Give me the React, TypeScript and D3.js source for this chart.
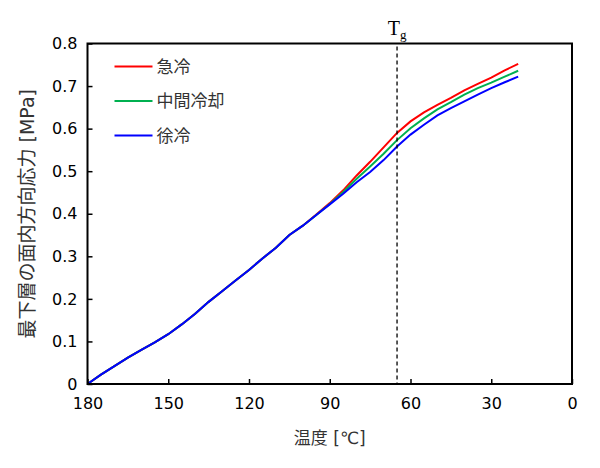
import { useEffect, useRef } from 'react';
import * as d3 from 'd3';

// 温度 [℃] (x, reversed axis)
const temps = [180, 175, 170, 165, 160, 155, 150, 145, 140, 135, 130, 125, 120, 115, 110, 105, 100, 95, 90, 85, 80, 75, 70, 65, 60, 55, 50, 45, 40, 35, 30, 25, 20];

// 急冷
const quench = [0, 0.022, 0.042, 0.062, 0.08, 0.098, 0.117, 0.14, 0.165, 0.193, 0.218, 0.243, 0.268, 0.295, 0.32, 0.35, 0.372, 0.398, 0.425, 0.455, 0.49, 0.522, 0.556, 0.59, 0.617, 0.638, 0.656, 0.672, 0.69, 0.705, 0.72, 0.737, 0.752];
// 中間冷却
const middle = [0, 0.022, 0.042, 0.062, 0.08, 0.098, 0.117, 0.14, 0.165, 0.193, 0.218, 0.243, 0.268, 0.295, 0.32, 0.35, 0.372, 0.397, 0.423, 0.451, 0.482, 0.511, 0.541, 0.573, 0.601, 0.624, 0.645, 0.662, 0.68, 0.695, 0.708, 0.722, 0.736];
// 徐冷
const slow = [0, 0.022, 0.042, 0.062, 0.08, 0.098, 0.117, 0.14, 0.165, 0.193, 0.218, 0.243, 0.268, 0.295, 0.32, 0.35, 0.372, 0.397, 0.422, 0.447, 0.474, 0.498, 0.526, 0.558, 0.586, 0.609, 0.631, 0.648, 0.664, 0.68, 0.695, 0.709, 0.722];

const seriesNames = ['急冷', '中間冷却', '徐冷'];
const seriesColors = ['#ff0000', '#00b050', '#0000ff'];
const xTicks = [180, 150, 120, 90, 60, 30, 0];
const yTicks = [0, 0.1, 0.2, 0.3, 0.4, 0.5, 0.6, 0.7, 0.8];
const tg = 65;

const FONT = "'DejaVu Sans', 'Noto Sans CJK JP', sans-serif";

const App = () => {
  const svgRef = useRef<SVGSVGElement>(null);

  useEffect(() => {
    if (!svgRef.current) return;
    const W = 600;
    const H = 468;
    const margin = { top: 43.5, right: 28, bottom: 84, left: 87.5 };
    const width = W - margin.left - margin.right;
    const height = H - margin.top - margin.bottom;

    d3.select(svgRef.current).selectAll('*').remove();
    const root = d3.select(svgRef.current).attr('width', W).attr('height', H);
    const svg = root.append('g').attr('transform', `translate(${margin.left},${margin.top})`);

    const x = d3.scaleLinear().domain([180, 0]).range([0, width]);
    const y = d3.scaleLinear().domain([0, 0.8]).range([height, 0]);

    const seriesValues = [quench, middle, slow];
    const line = d3.line<number>()
      .x((_, i) => x(temps[i]))
      .y(d => y(d));

    seriesValues.forEach((vals, k) => {
      svg.append('path')
        .datum(vals)
        .attr('d', line)
        .attr('fill', 'none')
        .attr('stroke', seriesColors[k])
        .attr('stroke-width', 2);
    });

    // Tg
    svg.append('line')
      .attr('x1', x(tg)).attr('x2', x(tg))
      .attr('y1', 3).attr('y2', height)
      .attr('stroke', '#000')
      .attr('stroke-width', 1.3)
      .attr('stroke-dasharray', '4,3');
    const tgText = svg.append('text')
      .attr('x', x(tg))
      .attr('y', -9)
      .attr('text-anchor', 'middle')
      .style('font-family', "'Liberation Serif', serif")
      .style('font-size', '20px')
      .style('fill', '#000');
    tgText.append('tspan').text('T');
    tgText.append('tspan').attr('dy', 4).style('font-size', '13px').text('g');

    // axes (ticks inward)
    const xAxis = svg.append('g')
      .attr('transform', `translate(0,${height})`)
      .call(d3.axisBottom(x).tickValues(xTicks).tickSizeInner(-5).tickSizeOuter(0).tickPadding(14).tickFormat(d3.format('d')));
    const yAxis = svg.append('g')
      .call(d3.axisLeft(y).tickValues(yTicks).tickSizeInner(-5).tickSizeOuter(0).tickPadding(10).tickFormat(d => (d === 0 ? '0' : d3.format('.1f')(d as number))));
    [xAxis, yAxis].forEach(a => {
      a.select('.domain').remove();
      a.selectAll('line').attr('stroke', '#000').attr('stroke-width', 1.5);
      a.selectAll('text').style('font-family', FONT).style('font-size', '16px').style('fill', '#000');
    });

    svg.append('rect')
      .attr('width', width)
      .attr('height', height)
      .attr('fill', 'none')
      .attr('stroke', '#000')
      .attr('stroke-width', 2);

    // legend
    seriesNames.forEach((name, i) => {
      const ly = 23 + i * 34.5;
      svg.append('line')
        .attr('x1', 27).attr('x2', 65)
        .attr('y1', ly).attr('y2', ly)
        .attr('stroke', seriesColors[i])
        .attr('stroke-width', 2);
      svg.append('text')
        .attr('x', 69)
        .attr('y', ly + 6)
        .style('font-family', FONT)
        .style('font-size', '17px')
        .style('fill', '#333')
        .text(name);
    });

    svg.append('text')
      .attr('x', width / 2)
      .attr('y', height + 60)
      .attr('text-anchor', 'middle')
      .style('font-family', FONT)
      .style('font-size', '17px')
      .style('fill', '#333')
      .text('温度 [℃]');

    svg.append('text')
      .attr('transform', 'rotate(-90)')
      .attr('x', -height / 2)
      .attr('y', -margin.left + 34)
      .attr('text-anchor', 'middle')
      .style('font-family', FONT)
      .style('font-size', '19px')
      .style('fill', '#333')
      .text('最下層の面内方向応力  [MPa]');
  }, []);

  return (
    <svg ref={svgRef} style={{ position: 'absolute', left: 0, top: 0, background: '#fff' }}></svg>
  );
};

export default App;
